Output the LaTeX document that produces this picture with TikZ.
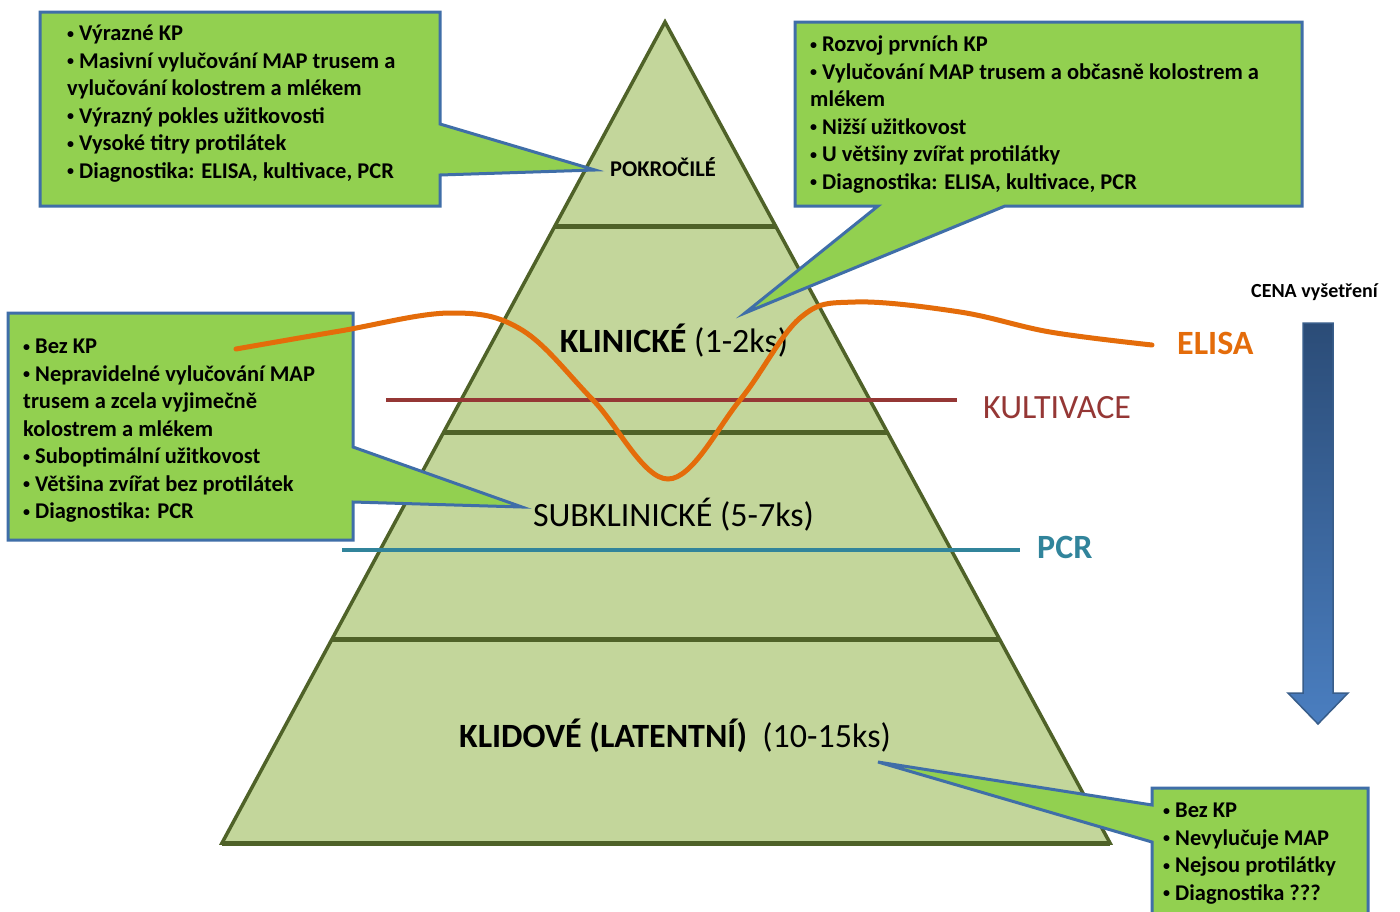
\documentclass[tikz,border=0pt]{standalone}
\usepackage{fontspec}
\setmainfont{Carlito}
\usetikzlibrary{calc}

\definecolor{calloutfill}{HTML}{92D050}
\definecolor{calloutline}{HTML}{3F6EA8}
\definecolor{pyrfill}{HTML}{C3D69B}
\definecolor{pyrline}{HTML}{4F6228}
\definecolor{elisacol}{HTML}{E46C0A}
\definecolor{kultcol}{HTML}{953735}
\definecolor{pcrcol}{HTML}{31849B}
\definecolor{arrowtop}{HTML}{2B4C77}
\definecolor{arrowbot}{HTML}{4A7EC0}
\definecolor{arrowline}{HTML}{385D8A}

% small list bullet
\newcommand{\bul}{\raisebox{2.4pt}{\fontsize{14}{14}\selectfont •}\hspace{5pt}}

\begin{document}
\begin{tikzpicture}[x=1pt,y=-1pt,
  callout/.style={fill=calloutfill, draw=calloutline, line width=3pt, line join=miter},
  bullets/.style={anchor=base west, inner sep=0pt, font=\fontsize{22.5}{27.5}\selectfont\bfseries},
  tier/.style={anchor=base, inner sep=0pt, font=\fontsize{34}{40}\selectfont},
  method/.style={anchor=base west, inner sep=0pt, font=\fontsize{34}{40}\selectfont},
  divider/.style={draw=pyrline, line width=5pt},
  testline/.style={line width=4.5pt}
]
% canvas
\clip (0,0) rectangle (1400,911);
\fill[white] (0,0) rectangle (1400,911);

% pyramid
\coordinate (apex) at (665,22);
\coordinate (bl) at (222,843);
\coordinate (br) at (1110,843);
\filldraw[fill=pyrfill, draw=pyrline, line width=3.5pt, line join=miter] (apex) -- (br) -- (bl) -- cycle;
\foreach \t in {0.2485,0.4994,0.7527,1}
  \draw[divider] ($(apex)!\t!(bl)$) -- ($(apex)!\t!(br)$);

% cultivation and PCR levels
\coordinate (kult1) at (386,400);
\coordinate (kult2) at (957,400);
\draw[kultcol, testline] (kult1) -- (kult2);
\coordinate (pcr1) at (342,550);
\coordinate (pcr2) at (1020,550);
\draw[pcrcol, testline] (pcr1) -- (pcr2);

% tier labels
\node[tier] (pok) at (663,176.5) {\fontsize{22.5}{27}\selectfont\bfseries POKROČILÉ};
\node[tier] (kli) at (674,352) {\textbf{KLINICKÉ} (1-2ks)};
\node[tier] (sub) at (673.5,526) {SUBKLINICKÉ (5-7ks)};
\node[tier] (lat) at (675,747) {\textbf{KLIDOVÉ (LATENTNÍ)}\ \ (10-15ks)};

% callout: advanced stage
\coordinate (tipA) at (595,170);
\draw[callout] (40,12) -- (440,12) -- (440,124) -- (tipA) -- (440,175) -- (440,206) -- (40,206) -- cycle;
\node[bullets] (txtA) at (67,40.5) {\parbox[t]{370pt}{%
\bul Výrazné KP\\
\bul Masivní vylučování MAP trusem a\\
vylučování kolostrem a mlékem\\
\bul Výrazný pokles užitkovosti\\
\bul Vysoké titry protilátek\\
\bul Diagnostika: ELISA, kultivace, PCR}};

% callout: clinical stage
\coordinate (tipB) at (745,313);
\draw[callout] (795,22) -- (1302,22) -- (1302,206) -- (1005,206) -- (tipB) -- (878,206) -- (795,206) -- cycle;
\node[bullets] (txtB) at (810,51.5) {\parbox[t]{480pt}{%
\bul Rozvoj prvních KP\\
\bul Vylučování MAP trusem a občasně kolostrem a\\
mlékem\\
\bul Nižší užitkovost\\
\bul U většiny zvířat protilátky\\
\bul Diagnostika: ELISA, kultivace, PCR}};

% callout: subclinical stage
\coordinate (tipC) at (522,507);
\draw[callout] (8,313) -- (353,313) -- (353,447) -- (tipC) -- (353,502) -- (353,540) -- (8,540) -- cycle;
\node[bullets] (txtC) at (23,353.5) {\parbox[t]{330pt}{%
\bul Bez KP\\
\bul Nepravidelné vylučování MAP\\
trusem a zcela vyjimečně\\
kolostrem a mlékem\\
\bul Suboptimální užitkovost\\
\bul Většina zvířat bez protilátek\\
\bul Diagnostika: PCR}};

% callout: latent stage
\coordinate (tipD) at (878,762);
\draw[callout] (1152,788) -- (1368,788) -- (1368,930) -- (1152,930) -- (1152,842) -- (tipD) -- (1152,805) -- cycle;
\node[bullets] (txtD) at (1163,817.5) {\parbox[t]{200pt}{%
\bul Bez KP\\
\bul Nevylučuje MAP\\
\bul Nejsou protilátky\\
\bul Diagnostika ???}};

% ELISA curve
\coordinate (elisaStart) at (236,349);
\coordinate (elisaEnd) at (1152,345);
\draw[elisacol, line width=5pt, line cap=round] plot[smooth, tension=0.6] coordinates {
  (elisaStart) (340,331) (450,313) (522,330) (593,400) (668,479) (740,400)
  (800,318) (855,302) (960,312) (1050,332) (elisaEnd)};

% method labels
\node[method, text=elisacol, font=\fontsize{34}{40}\selectfont\bfseries] (elisa) at (1177,354) {ELISA};
\node[method, text=kultcol] (kult) at (983,418) {KULTIVACE};
\node[method, text=pcrcol, font=\fontsize{34}{40}\selectfont\bfseries] (pcr) at (1037,558) {PCR};

% cost arrow
\node[anchor=base west, inner sep=0pt, font=\fontsize{20}{24}\selectfont\bfseries] (cena) at (1251,297) {CENA vyšetření};
\shadedraw[top color=arrowtop, bottom color=arrowbot, draw=arrowline, line width=1.5pt]
  (1303,323) -- (1333,323) -- (1333,693) -- (1348,693) -- (1318,724) -- (1288,693) -- (1303,693) -- cycle;
\end{tikzpicture}
\end{document}
